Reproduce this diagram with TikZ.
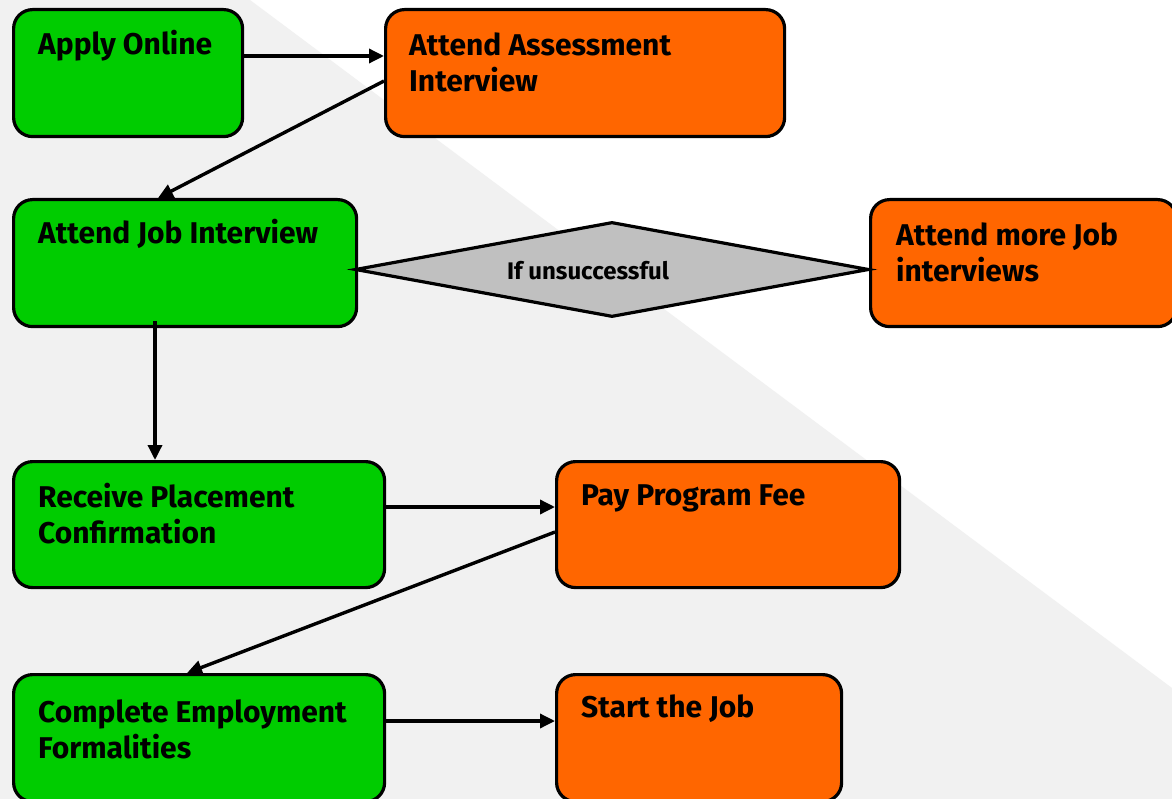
\documentclass[tikz,border=0pt]{standalone}
\usepackage{fontspec}
\setmainfont{Fira Sans}
\usetikzlibrary{shapes.geometric,arrows.meta,calc}
\definecolor{boxgreen}{HTML}{00CC00}
\definecolor{boxorange}{HTML}{FF6600}
\definecolor{diagray}{HTML}{C0C0C0}
\definecolor{bggray}{HTML}{F1F1F1}
\begin{document}
\begin{tikzpicture}[x=1pt,y=-1pt,
  box/.style={draw=black,line width=3.2pt,rounded corners=19pt,inner sep=0pt,anchor=north west},
  gbox/.style={box,fill=boxgreen},
  obox/.style={box,fill=boxorange},
  lbl/.style={anchor=base west,inner sep=0pt,align=left,font=\fontsize{30}{36}\selectfont\bfseries},
  arr/.style={draw=black,line width=3.4pt,-{Triangle[length=15pt,width=14pt]}}]
\useasboundingbox (0,0) rectangle (1172,799);
\clip (0,0) rectangle (1172,799);
\fill[white] (0,0) rectangle (1172,799);
\fill[bggray] (0,0) -- (250,0) -- (1172,688) -- (1172,799) -- (0,799) -- cycle;

\node[gbox,minimum width=229,minimum height=127] (apply) at (12,8) {};
\node[obox,minimum width=399,minimum height=127] (assess) at (384,8) {};
\node[gbox,minimum width=343,minimum height=127] (jobint) at (12,198) {};
\node[obox,minimum width=306,minimum height=127] (more) at (869,198) {};
\node[gbox,minimum width=371,minimum height=126] (receive) at (12,460) {};
\node[obox,minimum width=343,minimum height=126] (pay) at (555,460) {};
\node[gbox,minimum width=371,minimum height=127] (complete) at (12,673) {};
\node[obox,minimum width=285,minimum height=127] (start) at (555,673) {};

\node[diamond,draw=black,fill=diagray,line width=3.2pt,minimum width=514,minimum height=95,inner sep=0pt,shape aspect=5.4] (dia) at (612,269.5) {};
\node[inner sep=0pt,font=\fontsize{24}{28}\selectfont\bfseries] (diaT) at (588,271) {If unsuccessful};

\node[lbl] (applyT) at ($(apply.north west)+(26,47)$) {Apply Online};
\node[lbl] (assessT) at ($(assess.north west)+(25,84)$) {Attend Assessment\\Interview};
\node[lbl] (jobintT) at ($(jobint.north west)+(26,46)$) {Attend Job Interview};
\node[lbl] (moreT) at ($(more.north west)+(27,84)$) {Attend more Job\\interviews};
\node[lbl] (receiveT) at ($(receive.north west)+(26,83)$) {Receive Placement\\Confirmation};
\node[lbl] (payT) at ($(pay.north west)+(26,45)$) {Pay Program Fee};
\node[lbl] (completeT) at ($(complete.north west)+(26,85)$) {Complete Employment\\Formalities};
\node[lbl] (startT) at ($(start.north west)+(26,44)$) {Start the Job};

\draw[arr] ($(apply.north east)+(0,48)$) -- ($(assess.north west)+(0,48)$);
\draw[arr] ($(assess.north west)+(0,73)$) -- ($(jobint.north west)+(146,0)$);
\draw[arr] ($(jobint.south west)+(143,-7)$) -- ($(receive.north west)+(143,0)$);
\draw[arr] ($(receive.north east)+(0,47)$) -- ($(pay.north west)+(0,47)$);
\draw[arr] ($(pay.north west)+(0,72)$) -- ($(complete.north west)+(175,0)$);
\draw[arr] ($(complete.north east)+(0,48)$) -- ($(start.north west)+(0,48)$);
\end{tikzpicture}
\end{document}
